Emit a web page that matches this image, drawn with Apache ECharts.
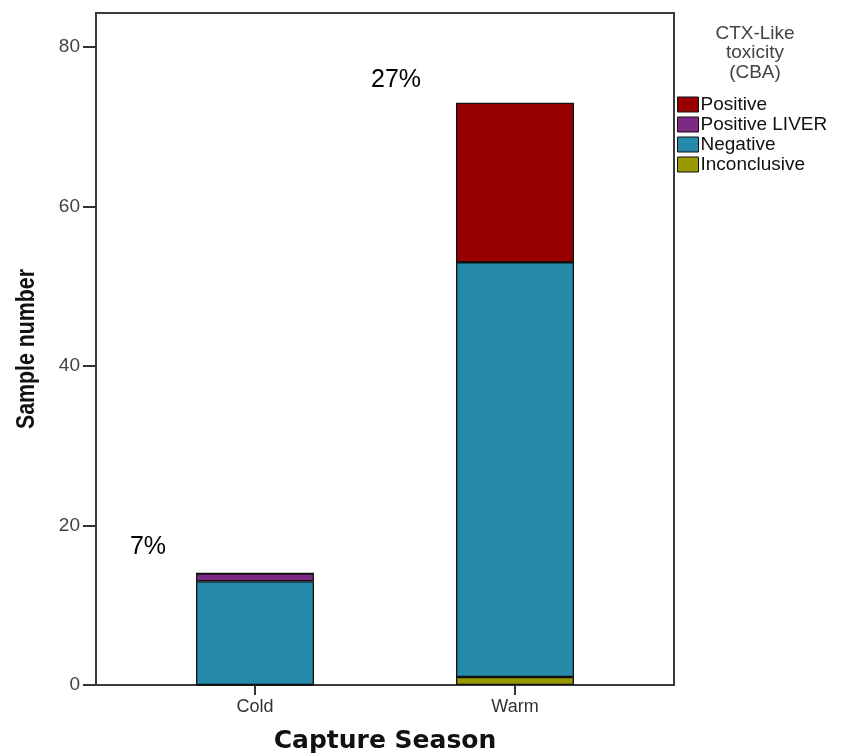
<!DOCTYPE html>
<html>
<head>
<meta charset="utf-8">
<script src="https://cdn.jsdelivr.net/npm/echarts@6/dist/echarts.min.js"></script>
<style>
  html, body { margin: 0; padding: 0; background: #fff; }
  #chart { width: 843px; height: 753px; }
</style>
</head>
<body>
<div id="chart"></div>
<script>
// Samples per capture season, split by CTX-like toxicity result (CBA)
const categories = ['Cold', 'Warm'];
const positive = [0, 20];
const positiveLiver = [1, 0];
const negative = [13, 52];
const inconclusive = [0, 1];
const yTicks = [0, 20, 40, 60, 80];

const legendOrder = ['Positive', 'Positive LIVER', 'Negative', 'Inconclusive'];
const colors = {
  'Positive': '#990000',
  'Positive LIVER': '#7c2a83',
  'Negative': '#2589a9',
  'Inconclusive': '#999900'
};

// stacked bottom-up
const stackSeries = [
  { name: 'Inconclusive', values: inconclusive },
  { name: 'Negative', values: negative },
  { name: 'Positive LIVER', values: positiveLiver },
  { name: 'Positive', values: positive }
];

const totals = categories.map((_, i) => stackSeries.reduce((s, d) => s + d.values[i], 0));
const pctPositive = categories.map((_, i) =>
  Math.round(100 * (positive[i] + positiveLiver[i]) / totals[i]) + '%');

// index of the top non-empty segment of each bar
const topIndex = categories.map((_, i) => {
  let top = 0;
  stackSeries.forEach((d, k) => { if (d.values[i] > 0) top = k; });
  return top;
});

const pctOffsets = [[-107, -9], [-119, -5]];

const yMax = 84.25;

const series = stackSeries.map((d, k) => ({
  name: d.name,
  type: 'bar',
  stack: 'season',
  xAxisIndex: 1,
  yAxisIndex: 1,
  barWidth: 118,
  itemStyle: { color: colors[d.name], borderColor: '#111', borderWidth: 1.3 },
  emphasis: { disabled: true },
  data: d.values.map((v, i) => ({
    value: v,
    label: topIndex[i] === k ? {
      show: true,
      position: 'top',
      formatter: pctPositive[i],
      offset: pctOffsets[i],
      fontFamily: 'Liberation Sans',
      fontSize: 25,
      color: '#000'
    } : { show: false }
  }))
}));

const chart = echarts.init(document.getElementById('chart'), null, { renderer: 'canvas' });
chart.setOption({
  animation: false,
  backgroundColor: '#fff',
  title: {
    text: 'CTX-Like\ntoxicity\n(CBA)',
    left: 755,
    top: 24,
    padding: 0,
    textAlign: 'center',
    textStyle: {
      fontFamily: 'Liberation Sans',
      fontWeight: 'normal',
      fontSize: 19,
      lineHeight: 19.5,
      color: '#444'
    }
  },
  legend: {
    data: legendOrder,
    orient: 'vertical',
    left: 677,
    top: 95,
    padding: 0,
    itemWidth: 21,
    itemHeight: 15,
    itemGap: 1,
    icon: 'rect',
    selectedMode: false,
    itemStyle: { borderColor: '#111', borderWidth: 1 },
    textStyle: { fontFamily: 'Liberation Sans', fontSize: 19, color: '#111', padding: [0, 0, 0, -3] }
  },
  graphic: [
    {
      type: 'text',
      x: 27,
      y: 349,
      rotation: Math.PI / 2,
      scaleX: 0.82,
      style: {
        text: 'Sample number',
        font: 'bold 26px "Liberation Sans"',
        fill: '#111',
        align: 'center',
        verticalAlign: 'middle'
      }
    }
  ],
  grid: [
    { left: 96, right: 169, top: 13, bottom: 68, outerBoundsMode: 'none', containLabel: false,
      show: true, borderColor: '#3a3a3a', borderWidth: 2, backgroundColor: 'transparent' },
    { left: 125, right: 198, top: 13, bottom: 68, outerBoundsMode: 'none', containLabel: false }
  ],
  xAxis: [
    { gridIndex: 0, type: 'value', show: false, min: 0, max: 1 },
    {
      gridIndex: 1,
      type: 'category',
      data: categories,
      axisLine: { show: false },
      axisTick: { show: true, alignWithLabel: true, length: 10, lineStyle: { color: '#333', width: 2 } },
      axisLabel: { margin: 13, fontFamily: 'Liberation Sans', fontSize: 18, color: '#333' },
      name: 'Capture Season',
      nameLocation: 'middle',
      nameGap: 44,
      nameTextStyle: { fontFamily: 'DejaVu Sans', fontWeight: 'bold', fontSize: 25, color: '#111' }
    }
  ],
  yAxis: [
    {
      gridIndex: 0,
      type: 'value',
      min: 0,
      max: yMax,
      axisLine: { show: true, lineStyle: { color: '#3a3a3a', width: 2 } },
      axisTick: { show: true, length: 13, customValues: yTicks, lineStyle: { color: '#333', width: 2 } },
      axisLabel: { margin: 16, customValues: yTicks, fontFamily: 'Liberation Sans', fontSize: 19, color: '#444' },
      splitLine: { show: false }
    },
    { gridIndex: 1, type: 'value', min: 0, max: yMax, show: false }
  ],
  series: series
});
</script>
</body>
</html>
